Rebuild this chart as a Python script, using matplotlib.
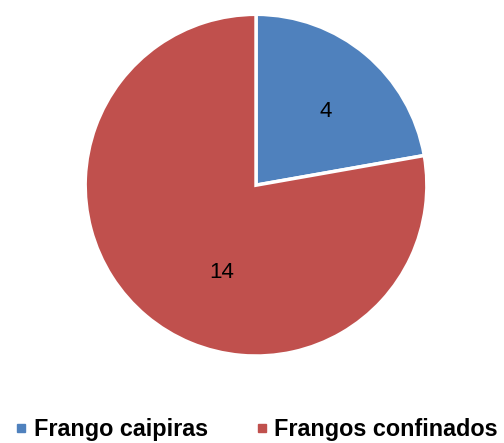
import matplotlib.pyplot as plt
from matplotlib.lines import Line2D

labels = ['Frango caipiras', 'Frangos confinados']
counts = [4, 14]
colors = ['#4F81BD', '#C0504D']

plt.rcParams['font.family'] = ['Liberation Sans', 'DejaVu Sans']

fig = plt.figure(figsize=(5.04, 4.43), dpi=100)
ax = fig.add_axes([0.169, 0.196, 0.678, 0.772])

wedges, texts = ax.pie(counts, colors=colors, startangle=90, counterclock=False,
                       labels=[str(c) for c in counts], labeldistance=0.6,
                       wedgeprops=dict(edgecolor='white', linewidth=2.5),
                       textprops=dict(fontsize=16, color='black'))
for t in texts:
    t.set_horizontalalignment('center')
    t.set_verticalalignment('center')
# nudge data labels toward the centre, Excel-style
texts[0].set_position((0.41, 0.43))
texts[1].set_position((-0.2, -0.51))
ax.set_xlim(-1.0, 1.0)
ax.set_ylim(-1.0, 1.0)

handles = [Line2D([], [], marker='s', linestyle='none', markersize=5.5,
                  markerfacecolor=c, markeredgecolor=c) for c in colors]
fig.legend(handles, labels, loc='center', bbox_to_anchor=(0.508, 0.03), ncol=2,
           frameon=False, prop=dict(size=16.8, weight='bold'),
           handletextpad=0.25, columnspacing=2.0, handlelength=0.6,
           borderpad=0, borderaxespad=0)

fig.savefig('out.png', dpi=100)
